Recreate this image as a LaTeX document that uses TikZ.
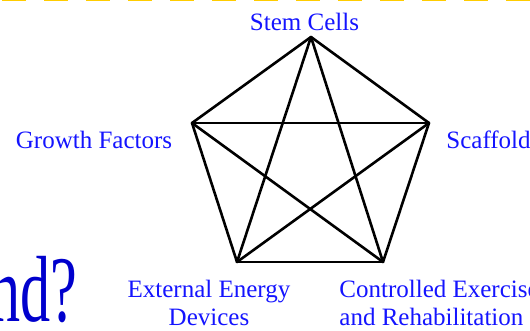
\documentclass[tikz,border=0pt]{standalone}
\usepackage{fontspec}
\setmainfont{Liberation Serif}
\usepackage{tikz}
\definecolor{labelblue}{RGB}{20,20,255}
\definecolor{titleblue}{RGB}{0,0,205}
\definecolor{dashgold}{RGB}{255,204,0}

\begin{document}
\begin{tikzpicture}[x=0.5pt, y=0.5pt,
  lbl/.style={text=labelblue, inner sep=0pt, font=\fontsize{12.5}{14}\selectfont},
  link/.style={draw=black, line width=1.3pt, line cap=round, line join=round}
]
\useasboundingbox (0,0) rectangle (530,331);
\clip (0,0) rectangle (530,331);

% Dashed rule along the top edge
\coordinate (ruleL) at (2,331);
\coordinate (ruleR) at (532,331);
\draw[dashgold, line width=1.5pt, dash pattern=on 12pt off 9pt] (ruleL) -- (ruleR);

% Title fragment (cut by the left edge)
\node[anchor=base east, text=titleblue, inner sep=0pt, font=\fontsize{47}{50}\selectfont] (titlefrag) at (78,9) {\scalebox{0.64}[1]{nd?}};

% Pentagon corners
\coordinate (vstem) at (311,294);
\coordinate (vgrowth) at (192,208);
\coordinate (vscaffold) at (429,208);
\coordinate (venergy) at (237,69);
\coordinate (vexercise) at (383,69);

% Labels
\node[lbl, anchor=base] (stemlbl) at (304.5,300) {Stem Cells};
\node[lbl, anchor=base] (growthlbl) at (94,182) {Growth Factors};
\node[lbl, anchor=base west] (scaffoldlbl) at (446,182) {Scaffold};
\node[lbl, align=center, anchor=north] (energylbl) at (209,51) {External Energy\\Devices};
\node[lbl, align=left, anchor=north west] (exerciselbl) at (339,51) {Controlled Exercise\\and Rehabilitation};

% Sides
\draw[link] (vstem) -- (vgrowth);
\draw[link] (vstem) -- (vscaffold);
\draw[link] (vgrowth) -- (venergy);
\draw[link] (vscaffold) -- (vexercise);
\draw[link] (venergy) -- (vexercise);

% Diagonals
\draw[link] (vstem) -- (venergy);
\draw[link] (vstem) -- (vexercise);
\draw[link] (vgrowth) -- (vscaffold);
\draw[link] (vgrowth) -- (vexercise);
\draw[link] (vscaffold) -- (venergy);

\end{tikzpicture}
\end{document}
